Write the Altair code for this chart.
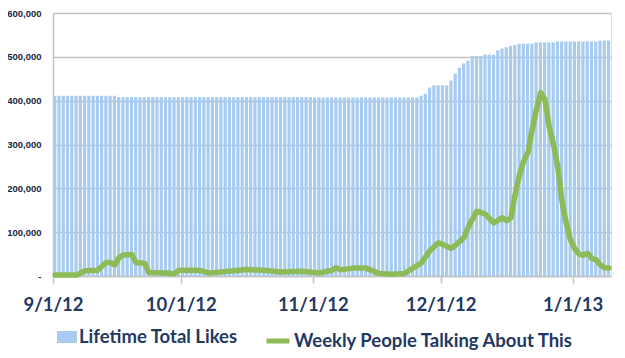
import altair as alt
import pandas as pd

# ---- data ----
start_date = "2012-09-01"

# Lifetime Total Likes, one value per day from 9/1/12 (131 days)
likes = (
    [411000] * 15            # days 0-14
    + [408000] * 46          # days 15-60
    + [407000] * 25          # days 61-85
    + [411000, 416000, 430000, 435000, 435000, 435000, 435000,   # 86-92
       446000, 462000, 475000, 485000, 491000,                    # 93-97
       502000, 502000, 502000, 505000, 505000, 505000,            # 98-103
       515000, 519000, 522000, 525000, 527000,                    # 104-108
       530000, 530000, 530000, 530000,                            # 109-112
       533000, 533000, 533000, 533000, 533000,                    # 113-117
       535000, 535000, 535000, 535000, 535000, 535000, 535000, 535000, 535000, 535000,  # 118-127
       537000, 537000, 537000]                                    # 128-130
)

# Weekly People Talking About This: (day offset from 9/1/12, value)
talk_days = [0, 5, 7, 10, 11, 12, 13, 14, 15, 16, 18, 19, 21, 22, 26, 28, 29, 34, 36, 39,
             45, 49, 53, 58, 62, 65, 66, 67, 70, 73, 75, 76, 79, 82, 83, 86, 88, 90, 91, 93,
             94, 96, 97, 99, 101, 103, 105, 106, 107, 108, 109, 110, 111, 112, 113, 114, 115,
             116, 117, 118, 119, 120, 121, 122, 123, 124, 125, 126, 127, 128, 129, 130]
talk_values = [2000, 2000, 12000, 13000, 22000, 31000, 31000, 25000, 42000, 48000, 49000, 30000,
               29000, 8000, 7000, 5000, 13000, 13000, 7000, 9000,
               15000, 13000, 9000, 11000, 7000, 13000, 19000, 14000, 18000, 18000, 10000, 6000,
               4000, 6000, 12000, 30000, 58000, 76000, 72000, 63000,
               70000, 88000, 112000, 148000, 141000, 121000, 133000, 126000, 133000, 187000,
               230000, 262000, 282000, 335000, 380000, 418000, 402000,
               340000, 300000, 250000, 170000, 120000, 82000, 62000, 50000, 47000, 52000,
               40000, 37000, 25000, 19000, 18000]

x_tick_dates = ["2012-09-01", "2012-10-01", "2012-11-01", "2012-12-01", "2013-01-01"]
y_ticks = [0, 100000, 200000, 300000, 400000, 500000, 600000]

BAR_NAME = "Lifetime Total Likes"
LINE_NAME = "Weekly People Talking About This"

# ---- tables ----
t0 = pd.Timestamp(start_date)
bar_start = [t0 + pd.Timedelta(days=i) + pd.Timedelta(hours=1) for i in range(len(likes))]
bar_end = [t0 + pd.Timedelta(days=i) + pd.Timedelta(hours=19) for i in range(len(likes))]
df_bar = pd.DataFrame({"start": bar_start, "end": bar_end, "likes": likes, "series": BAR_NAME})
df_line = pd.DataFrame({
    "date": [t0 + pd.Timedelta(days=d) + pd.Timedelta(hours=12) for d in talk_days],
    "talk": talk_values,
    "series": LINE_NAME,
})

TEXT = "#1f3864"
FONT = "Lato"
GRID = "#c3c3c3"

x_scale = alt.Scale(domain=[alt.DateTime(year=2012, month=9, date=1),
                            alt.DateTime(year=2013, month=1, date=10)])
y_scale = alt.Scale(domain=[0, 600000], nice=False)

x_axis = alt.Axis(
    values=[alt.DateTime(year=int(s[:4]), month=int(s[5:7]), date=int(s[8:])) for s in x_tick_dates],
    format="%-m/%-d/%y", title=None, grid=False,
    domainColor=GRID, domainWidth=1.5, tickColor=GRID, tickWidth=1.5, tickSize=7,
    labelFont=FONT, labelFontSize=18.5, labelFontWeight="bold", labelColor=TEXT,
    labelPadding=12, labelFlush=False,
)
y_axis = alt.Axis(
    values=y_ticks, title=None, grid=True, gridColor=GRID, gridWidth=1.5,
    domainColor=GRID, domainWidth=1.5, ticks=False,
    labelExpr="datum.value == 0 ? '-' : format(datum.value, ',')",
    labelFont="Liberation Sans", labelFontSize=9.5, labelFontWeight="bold",
    labelColor="#1a2540", labelPadding=12,
)

bars = alt.Chart(df_bar).mark_bar(opacity=1).encode(
    x=alt.X("start:T", scale=x_scale, axis=x_axis),
    x2="end:T",
    y=alt.Y("likes:Q", scale=y_scale, axis=y_axis),
    y2=alt.datum(0),
    fill=alt.Fill("series:N", scale=alt.Scale(domain=[BAR_NAME], range=["#a8cbf0"]),
                  legend=alt.Legend(
                      title=None, orient="none", legendX=4, legendY=314,
                      symbolType="M-1,-0.6H1V0.6H-1Z", symbolSize=400,
                      symbolStrokeWidth=0, symbolOpacity=1,
                      labelFont=FONT, labelFontSize=18.5, labelFontWeight="bold",
                      labelColor=TEXT, labelOffset=2, padding=0, labelLimit=400,
                  )),
)

line = alt.Chart(df_line).mark_line(strokeWidth=5.5, strokeJoin="round", strokeCap="round").encode(
    x=alt.X("date:T", scale=x_scale),
    y=alt.Y("talk:Q", scale=y_scale),
    stroke=alt.Stroke("series:N", scale=alt.Scale(domain=[LINE_NAME], range=["#8cbb58"]),
                      legend=alt.Legend(
                          title=None, orient="none", legendX=211, legendY=314,
                          symbolType="stroke", symbolSize=529, symbolStrokeWidth=5,
                          labelFont=FONT, labelFontSize=18.5, labelFontWeight="bold",
                          labelColor=TEXT, labelOffset=2, padding=0, labelLimit=400,
                      )),
)

chart = alt.layer(bars, line).resolve_scale(x="shared", y="shared").properties(
    width=558, height=263,
    autosize=alt.AutoSizeParams(type="none"),
    padding={"left": 45, "top": 5, "right": 6, "bottom": 74},
).configure_view(stroke=None).configure(background="white")

chart.save("out.html", embed_options={"renderer": "svg", "actions": False})
